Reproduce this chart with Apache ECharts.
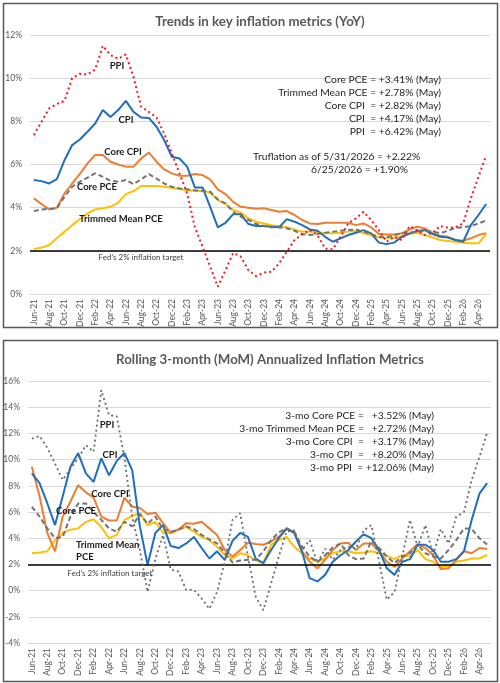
<!DOCTYPE html>
<html><head><meta charset="utf-8">
<script src="https://cdn.jsdelivr.net/npm/echarts@6/dist/echarts.min.js"></script>
<style>html,body{margin:0;padding:0;background:#fff}#c{width:500px;height:683px}</style>
</head><body><div id="c"></div>
<script>
const months = ['Jun-21','Jul-21','Aug-21','Sep-21','Oct-21','Nov-21','Dec-21','Jan-22','Feb-22','Mar-22','Apr-22','May-22',
'Jun-22','Jul-22','Aug-22','Sep-22','Oct-22','Nov-22','Dec-22','Jan-23','Feb-23','Mar-23','Apr-23','May-23',
'Jun-23','Jul-23','Aug-23','Sep-23','Oct-23','Nov-23','Dec-23','Jan-24','Feb-24','Mar-24','Apr-24','May-24',
'Jun-24','Jul-24','Aug-24','Sep-24','Oct-24','Nov-24','Dec-24','Jan-25','Feb-25','Mar-25','Apr-25','May-25',
'Jun-25','Jul-25','Aug-25','Sep-25','Oct-25','Nov-25','Dec-25','Jan-26','Feb-26','Mar-26','Apr-26','May-26'];

// YoY (top chart)
const yoyPPI = [7.36,7.98,8.6,8.8,8.95,10.0,10.2,10.17,10.4,11.5,11.07,10.9,11.1,10.06,8.67,8.44,8.18,7.44,6.5,5.59,4.66,3.1,2.2,1.27,0.34,1.1,1.9,1.73,1.1,0.83,
0.99,1.03,1.42,1.96,2.5,2.76,2.96,2.73,2.1,2.07,2.65,3.27,3.5,3.81,3.43,2.96,2.42,2.65,2.5,3.15,2.96,2.73,2.84,3.15,3.07,3.09,3.27,4.43,5.43,6.42];
const yoyCPI = [5.28,5.23,5.12,5.32,6.2,6.9,7.16,7.52,7.9,8.52,8.2,8.52,8.95,8.44,8.18,8.16,7.75,7.13,6.36,6.28,5.9,4.94,4.94,4.04,3.09,3.3,3.7,3.69,3.24,3.15,
3.15,3.12,3.09,3.47,3.35,3.19,2.99,2.93,2.65,2.42,2.58,2.73,2.84,2.96,2.81,2.38,2.31,2.38,2.65,2.81,2.92,2.96,2.78,2.65,2.62,2.5,2.42,3.19,3.66,4.17];
const yoyCoreCPI = [4.43,4.17,3.92,4.0,4.66,5.12,5.56,6.05,6.44,6.44,6.13,6.0,5.9,5.9,6.28,6.56,6.13,5.77,5.59,5.48,5.48,5.56,5.51,5.31,4.85,4.63,4.27,4.04,4.0,3.95,
3.97,3.89,3.81,3.84,3.66,3.43,3.27,3.24,3.3,3.3,3.3,3.3,3.19,3.27,3.09,2.78,2.76,2.76,2.81,2.99,3.12,3.04,2.81,2.7,2.65,2.5,2.47,2.58,2.73,2.82];
const yoyCorePCE = [3.84,3.92,3.94,3.97,4.5,4.97,5.2,5.39,5.59,5.43,5.25,5.2,5.28,5.09,5.31,5.56,5.35,5.12,4.97,4.89,4.85,4.81,4.78,4.74,4.38,4.2,3.81,3.58,3.43,3.24,
3.15,3.09,3.09,3.04,2.93,2.78,2.73,2.78,2.84,2.89,2.93,2.96,2.99,2.89,2.78,2.65,2.62,2.73,2.81,2.84,2.89,2.93,2.89,2.81,2.93,3.07,3.09,3.15,3.27,3.41];
const yoyTrimmed = [2.08,2.15,2.27,2.58,2.89,3.19,3.46,3.73,3.92,3.97,4.04,4.23,4.63,4.77,5.0,5.0,5.0,4.97,4.92,4.86,4.81,4.77,4.78,4.69,4.35,4.17,3.89,3.77,3.5,3.35,
3.27,3.19,3.15,3.09,2.99,2.89,2.89,2.86,2.81,2.81,2.84,2.89,2.93,2.81,2.73,2.62,2.61,2.61,2.69,2.78,2.84,2.73,2.62,2.5,2.45,2.42,2.38,2.35,2.35,2.78];

// 3-month annualized (bottom chart)
const momPPI = [11.6,11.8,10.9,9.7,8.45,9.3,10.1,11.1,10.6,15.3,13.4,13.3,10.1,5.65,3.1,-0.1,2.4,4.25,1.6,1.45,0.05,0.05,-0.6,-1.4,-0.1,2.2,5.4,5.9,2.6,-0.45,
-1.5,0.55,2.6,4.5,4.6,3.1,3.85,2.1,3.2,2.35,3.1,3.35,3.2,4.6,5.0,2.2,-0.7,-0.1,2.6,5.4,3.35,5.0,2.7,4.7,3.6,5.65,6.0,8.45,10.2,12.06];
const momCPI = [8.95,8.2,6.67,5.0,7.2,9.45,10.5,8.95,8.3,10.1,8.8,9.9,10.5,9.2,4.9,1.95,4.4,5.0,3.4,3.25,3.6,4.1,3.25,2.45,3.0,2.35,3.8,4.4,4.1,2.45,
2.1,3.1,4.0,4.75,4.4,3.0,0.95,0.7,1.2,2.2,2.7,3.1,3.75,4.3,4.0,3.1,1.7,1.2,2.2,2.4,3.5,3.5,3.1,2.2,2.2,2.4,3.0,5.4,7.4,8.2];
const momCoreCPI = [9.45,7.2,4.4,3.0,5.65,6.8,8.05,7.5,7.1,5.65,5.35,5.35,7.1,6.4,6.3,5.85,5.95,5.15,4.4,4.65,5.15,5.1,5.25,4.75,4.25,3.1,2.6,3.1,3.65,3.55,
3.5,3.75,4.1,4.7,4.45,3.0,2.2,1.7,2.35,3.1,3.6,3.65,3.1,3.6,3.6,3.0,2.2,1.8,2.45,3.0,3.55,3.25,2.7,1.65,1.7,2.35,3.0,2.85,3.25,3.17];
const momCorePCE = [6.4,5.65,4.75,4.0,4.1,5.65,6.65,6.65,6.0,5.4,4.75,4.5,5.25,4.9,5.85,5.1,5.65,4.7,4.5,4.65,4.9,4.7,4.25,3.9,3.6,2.9,2.15,2.3,2.35,2.35,
3.0,3.85,4.45,4.75,4.5,3.35,2.6,2.2,2.7,3.3,3.6,2.7,2.4,2.45,3.8,3.25,2.6,2.1,2.6,2.85,3.5,2.85,2.6,2.45,3.1,3.85,4.75,4.7,4.0,3.52];
const momTrimmed = [2.85,2.9,3.0,3.85,4.4,4.65,4.75,5.25,5.45,4.85,4.0,4.25,5.4,5.7,5.9,5.0,5.25,4.4,4.4,4.7,4.85,4.5,4.1,3.85,3.35,2.7,2.45,2.85,2.7,2.3,
2.1,3.5,3.85,4.1,3.35,2.85,2.45,2.2,2.45,2.85,3.0,3.0,2.85,2.9,3.0,2.85,2.65,2.4,2.7,2.6,3.1,2.4,2.2,1.8,1.85,2.2,2.3,2.45,2.45,2.72];

const topNotes = ['Core PCE = +3.41% (May)','Trimmed Mean PCE = +2.78% (May)','Core CPI  = +2.82% (May)','CPI  = +4.17% (May)','PPI  = +6.42% (May)'];
const bottomNotes = ['3-mo Core PCE =   +3.52% (May)','3-mo Trimmed Mean PCE =   +2.72% (May)','3-mo Core CPI  =   +3.17% (May)','3-mo CPI  =   +8.20% (May)','3-mo PPI  = +12.06% (May)'];

const FONT = 'Lato';
const C = {blue:'#1f6fbd', orange:'#ed7d31', gray:'#737373', yellow:'#ffc000', red:'#ee1c25', dot:'#6d6d6d'};

function xAx(g){return {type:'category',gridIndex:g,data:months,boundaryGap:true,
  axisLine:{show:false},axisTick:{show:false},
  axisLabel:{interval:1,rotate:90,fontSize:8.5,color:'#595959',fontFamily:FONT,margin:5},splitLine:{show:false}};}
function yAx(g,min,max){return {type:'value',gridIndex:g,min:min,max:max,interval:2,
  axisLine:{show:false},axisTick:{show:false},
  axisLabel:{formatter:'{value}%',fontSize:8.5,color:'#595959',fontFamily:FONT,margin:8},
  splitLine:{lineStyle:{color:'#d9d9d9',width:1}}};}
function line(name,data,g,color,type,width,z){return {name:name,type:'line',xAxisIndex:g,yAxisIndex:g,data:data,
  symbol:'none',smooth:false,z:z||2,lineStyle:{color:color,width:width||2,type:type||'solid'},emphasis:{disabled:true}};}
const fedLine = {silent:true,symbol:['none','none'],label:{show:false},lineStyle:{color:'#000',width:1.5,type:'solid'},data:[{yAxis:2}]};

function txt(x,y,t,o){return Object.assign({type:'text',x:x,y:y,silent:true,style:Object.assign({text:t,font:'10.3px '+FONT,fill:'#1f1f1f',align:'center',verticalAlign:'middle'},o||{})});}

const graphics = [
  {type:'rect',shape:{x:3.5,y:3.5,width:494,height:324},style:{fill:'none',stroke:'#595959',lineWidth:1.5},silent:true,z:-1},
  {type:'rect',shape:{x:3.5,y:340.5,width:494,height:341},style:{fill:'none',stroke:'#595959',lineWidth:1.5},silent:true,z:-1},
  txt(260,22,'Trends in key inflation metrics (YoY)',{font:'bold 13.3px '+FONT,fill:'#595959'}),
  txt(270,360,'Rolling 3-month (MoM) Annualized Inflation Metrics',{font:'bold 13.3px '+FONT,fill:'#595959'}),
];
topNotes.forEach((t,i)=>graphics.push(txt(441,80+i*13,t,{align:'right'})));
graphics.push(txt(253,157,'Truflation as of 5/31/2026 = +2.22%',{align:'left'}));
graphics.push(txt(408,170,'6/25/2026 = +1.90%',{align:'right'}));
bottomNotes.forEach((t,i)=>graphics.push(txt(434,416+i*13,t,{align:'right'})));
const lb = {font:'bold 9.5px '+FONT,fill:'#1a1a1a'};
const fed = {font:'8px '+FONT,fill:'#404040'};
graphics.push(txt(117,66,'PPI',lb), txt(126,120,'CPI',lb), txt(123,152,'Core CPI',lb), txt(97,187,'Core PCE',lb),
  txt(121,219,'Trimmed Mean PCE',lb), txt(141,257,"Fed's 2% inflation target",fed));
graphics.push(txt(107,425,'PPI',lb), txt(110,455,'CPI',lb), txt(110,494,'Core CPI',lb), txt(76,511,'Core PCE',lb),
  txt(76,545,'Trimmed Mean',Object.assign({align:'left'},lb)), txt(76,557,'PCE',Object.assign({align:'left'},lb)),
  txt(110,573,"Fed's 2% inflation target",fed));
graphics.forEach(g=>{ if(g.type==='text') g.z = 100; });

const chart = echarts.init(document.getElementById('c'),null,{renderer:'canvas'});
const s1 = line('Trimmed Mean PCE',yoyTrimmed,0,C.yellow,'solid',2,2);
s1.markLine = fedLine;
const s2 = line('Trimmed Mean PCE',momTrimmed,1,C.yellow,'solid',2,2);
s2.markLine = fedLine;
chart.setOption({
  animation:false,
  backgroundColor:'#fff',
  grid:[{left:30,right:10,top:35,bottom:389},{left:28,right:9,top:381,bottom:40}],
  xAxis:[xAx(0),xAx(1)],
  yAxis:[yAx(0,0,12),yAx(1,-4,16)],
  series:[
    s1,
    line('Core CPI',yoyCoreCPI,0,C.orange,'solid',2,3),
    line('CPI',yoyCPI,0,C.blue,'solid',2,4),
    line('Core PCE',yoyCorePCE,0,C.gray,[5,3],2,5),
    line('PPI',yoyPPI,0,C.red,[2,3],2,6),
    s2,
    line('Core CPI',momCoreCPI,1,C.orange,'solid',2,3),
    line('CPI',momCPI,1,C.blue,'solid',2,4),
    line('Core PCE',momCorePCE,1,C.gray,[5,3],2,5),
    line('PPI',momPPI,1,C.dot,[2,3],1.8,6)
  ],
  graphic:graphics
});
</script></body></html>
